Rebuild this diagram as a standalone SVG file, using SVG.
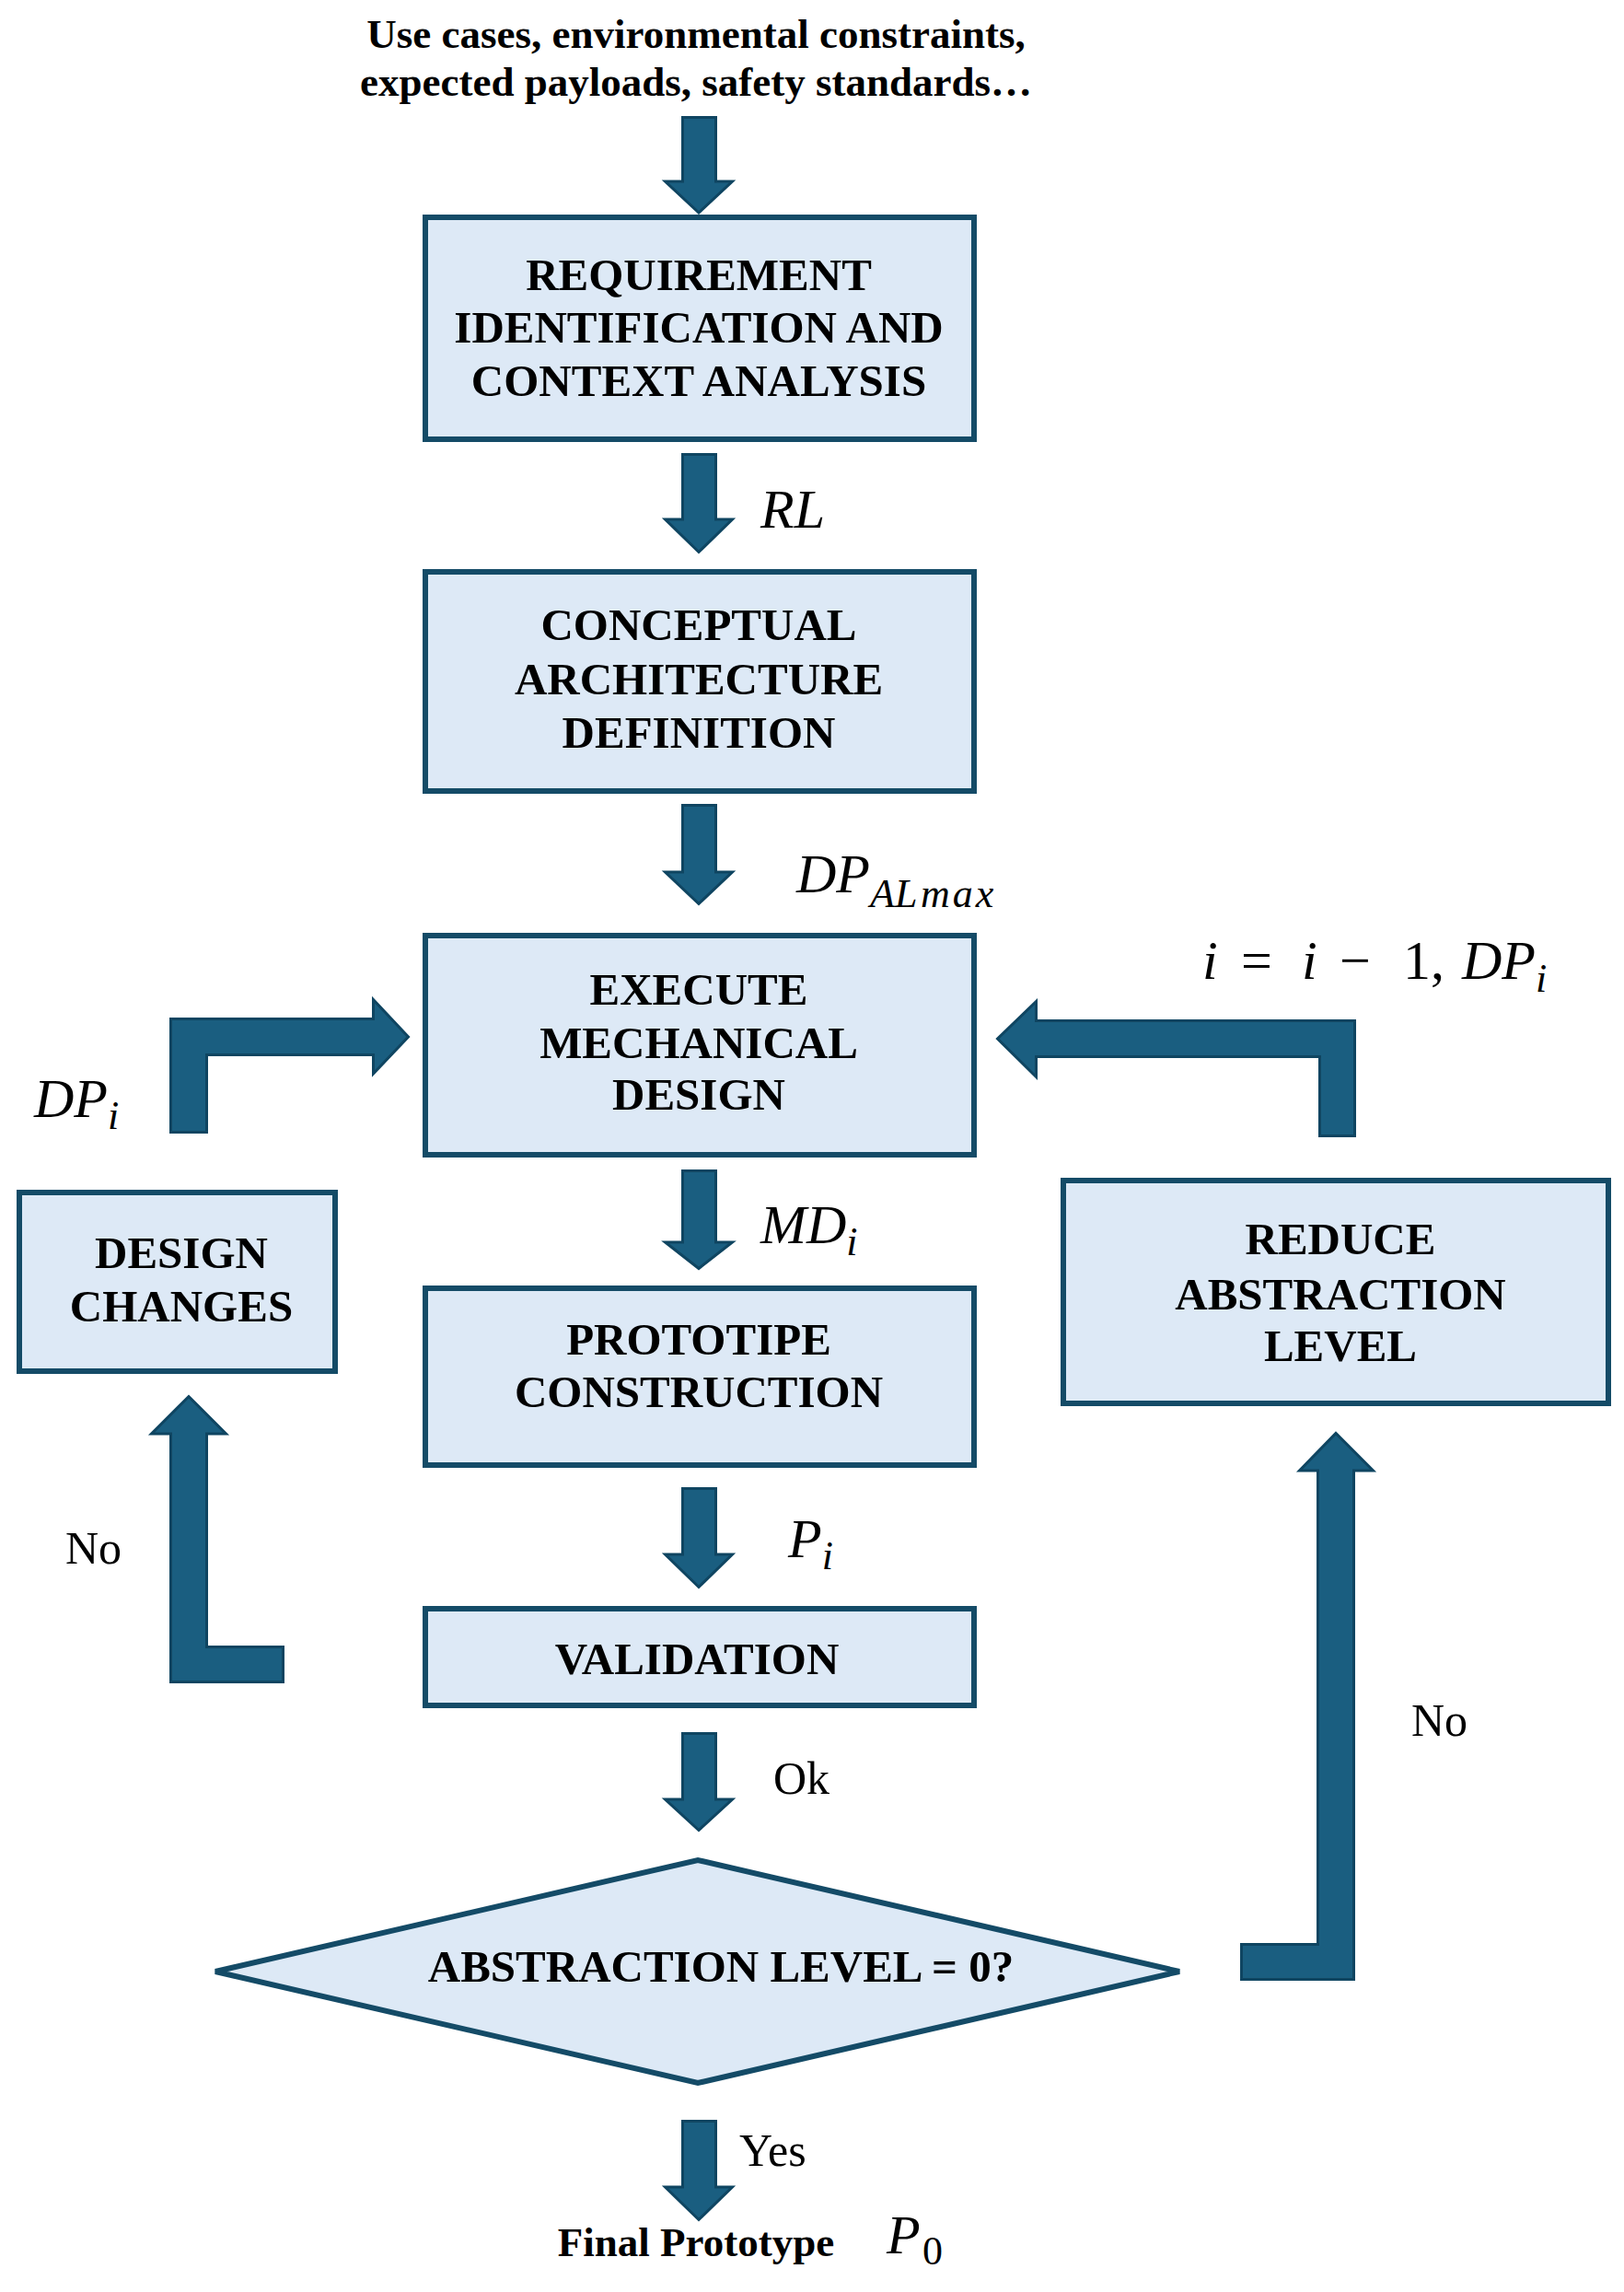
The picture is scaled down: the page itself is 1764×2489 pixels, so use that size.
<svg xmlns="http://www.w3.org/2000/svg" width="1764" height="2489" viewBox="0 0 1764 2489">
<style>
.box{fill:#dde9f6;stroke:#144b67;stroke-width:6}
.arr{fill:#1a5e80;stroke:#0f4561;stroke-width:3;stroke-linejoin:miter}
.lbl{font-family:"Liberation Serif",serif;font-weight:bold;font-size:49px;text-anchor:middle;fill:#000}
.top{font-family:"Liberation Serif",serif;font-weight:bold;font-size:45px;text-anchor:middle;fill:#000}
.txt{font-family:"Liberation Serif",serif;font-size:50px;fill:#000}
.m{font-family:"Liberation Serif",serif;font-style:italic;font-size:60px;fill:#000}
.up{font-style:normal}
.sub{font-size:44px}
</style>
<rect width="1764" height="2489" fill="#fff"/>
<g id="inputs">
<text class="top" x="756" y="52">Use cases, environmental constraints,</text>
<text class="top" x="756" y="104">expected payloads, safety standards…</text>
</g>
<g id="connectors">
<path class="arr" d="M741.5,127.5H777.5V197H795.5L759,231L722.5,197H741.5Z"/>
<path class="arr" d="M741.5,493.5H777.5V564H795.5L759,599.5L722.5,564H741.5Z"/>
<path class="arr" d="M741.5,874.5H777.5V947H795.5L759,981.5L722.5,947H741.5Z"/>
<path class="arr" d="M741.5,1271.5H777.5V1349H795.5L759,1377.5L722.5,1349H741.5Z"/>
<path class="arr" d="M741.5,1616.5H777.5V1688H795.5L759,1723.5L722.5,1688H741.5Z"/>
<path class="arr" d="M741.5,1882.5H777.5V1954H795.5L759,1987.5L722.5,1954H741.5Z"/>
<path class="arr" d="M741.5,2303.5H777.5V2375H795.5L759,2410.5L722.5,2375H741.5Z"/>
<path class="arr" d="M185.5,1229.5V1106.5H405.5V1085.5L443.5,1126L405.5,1166V1145.5H224.5V1229.5Z"/>
<path class="arr" d="M1471.5,1233.5V1108.5H1125.5V1087.5L1083.5,1128L1125.5,1169.5V1147.5H1433.5V1233.5Z"/>
<path class="arr" d="M185.5,1826.5V1557H164.5L205,1516.5L245.5,1557H224.5V1788.5H307.5V1826.5Z"/>
<path class="arr" d="M1470.5,2149.5V1597H1491.5L1451,1556.5L1411.5,1597H1431.5V2111.5H1348.5V2149.5Z"/>
</g>
<g id="edge-labels">
<text class="m" x="826" y="573">RL</text>
<text class="m" x="865" y="969">DP<tspan class="sub" x="945" y="985">AL</tspan><tspan class="sub" x="1000" y="985" letter-spacing="3">max</tspan></text>
<text class="m" y="1063"><tspan x="1306">i </tspan><tspan class="up" x="1348">= </tspan><tspan x="1414">i </tspan><tspan class="up" x="1455">− </tspan><tspan class="up" x="1524">1, </tspan><tspan x="1588">DP</tspan><tspan class="sub" x="1668" y="1077">i</tspan></text>
<text class="m" x="37" y="1213">DP<tspan class="sub" dy="13">i</tspan></text>
<text class="m" x="826" y="1350">MD<tspan class="sub" dy="13">i</tspan></text>
<text class="m" x="856" y="1691">P<tspan class="sub" dy="13">i</tspan></text>
<text class="m" x="963" y="2447">P<tspan class="sub up" x="1002" dy="12">0</tspan></text>
<text class="txt" x="71" y="1698">No</text>
<text class="txt" x="1533" y="1885">No</text>
<text class="txt" x="840" y="1948">Ok</text>
<text class="txt" x="803" y="2352">Yes</text>
</g>
<g id="n-requirements">
<rect class="box" x="462" y="236" width="596" height="241"/>
<text class="lbl" x="759" y="315">REQUIREMENT</text>
<text class="lbl" x="759" y="372">IDENTIFICATION AND</text>
<text class="lbl" x="759" y="430">CONTEXT ANALYSIS</text>
</g>
<g id="n-conceptual">
<rect class="box" x="462" y="621" width="596" height="238"/>
<text class="lbl" x="759" y="695">CONCEPTUAL</text>
<text class="lbl" x="759" y="754">ARCHITECTURE</text>
<text class="lbl" x="759" y="812">DEFINITION</text>
</g>
<g id="n-execute">
<rect class="box" x="462" y="1016" width="596" height="238"/>
<text class="lbl" x="759" y="1091">EXECUTE</text>
<text class="lbl" x="759" y="1149">MECHANICAL</text>
<text class="lbl" x="759" y="1205">DESIGN</text>
</g>
<g id="n-prototipe">
<rect class="box" x="462" y="1399" width="596" height="192"/>
<text class="lbl" x="759" y="1471">PROTOTIPE</text>
<text class="lbl" x="759" y="1528">CONSTRUCTION</text>
</g>
<g id="n-validation">
<rect class="box" x="462" y="1747" width="596" height="105"/>
<text class="lbl" x="757" y="1818">VALIDATION</text>
</g>
<g id="n-decision">
<polygon points="234,2141 758,2020 1281,2141 758,2262" fill="#dde9f6" stroke="#144b67" stroke-width="6" stroke-linejoin="miter"/>
<text class="lbl" x="783" y="2152">ABSTRACTION LEVEL = 0?</text>
</g>
<g id="n-design-changes">
<rect class="box" x="21" y="1295" width="343" height="194"/>
<text class="lbl" x="197" y="1377">DESIGN</text>
<text class="lbl" x="197" y="1435">CHANGES</text>
</g>
<g id="n-reduce">
<rect class="box" x="1155" y="1282" width="592" height="242"/>
<text class="lbl" x="1456" y="1362">REDUCE</text>
<text class="lbl" x="1456" y="1422">ABSTRACTION</text>
<text class="lbl" x="1456" y="1478">LEVEL</text>
</g>
<g id="output">
<text class="top" x="756" y="2450" font-size="44">Final Prototype</text>
</g>
</svg>
